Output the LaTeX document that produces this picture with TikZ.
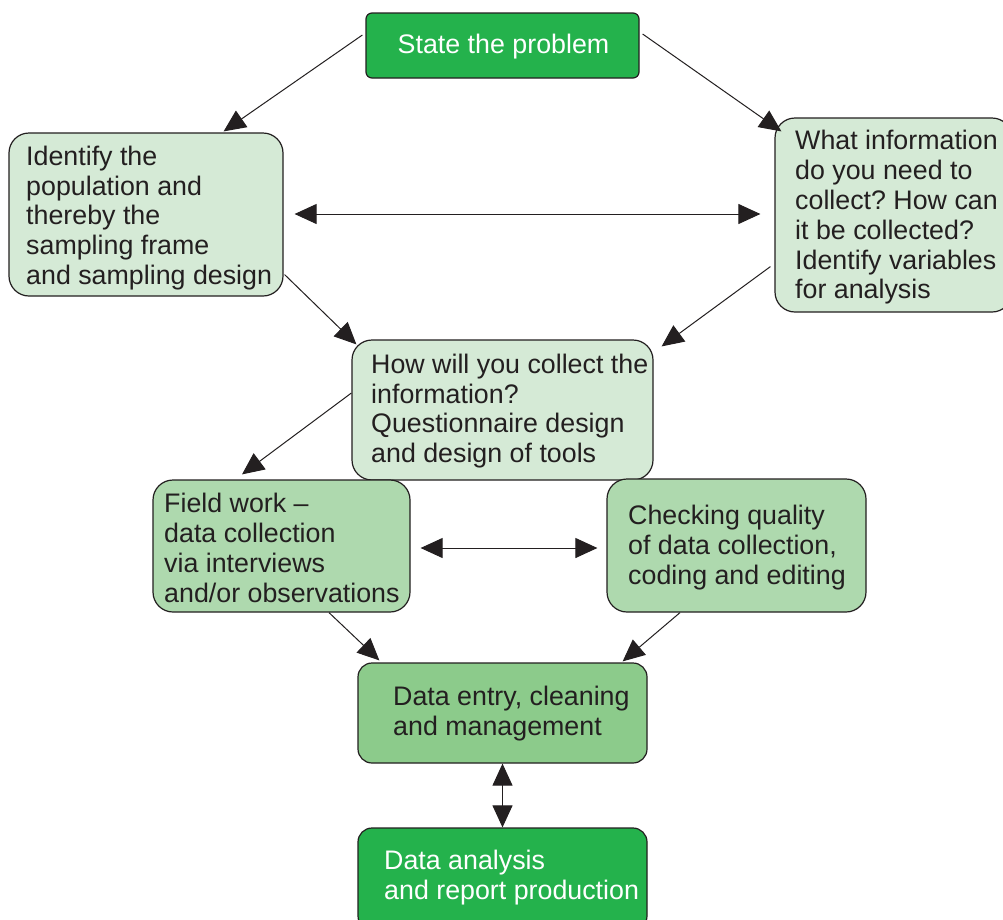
\documentclass[tikz,border=0pt]{standalone}
\usepackage{fontspec}
\setmainfont{Liberation Sans}
\usetikzlibrary{arrows.meta}
\frenchspacing

\definecolor{ink}{HTML}{231F20}
\definecolor{strong}{HTML}{24B24C}
\definecolor{pale}{HTML}{D5EAD6}
\definecolor{mid}{HTML}{AED9AE}
\definecolor{deep}{HTML}{8CCB8B}

\tikzset{
  box/.style={draw=ink, line width=1.2pt, inner sep=0pt, rounded corners=20pt},
  boxsmall/.style={box, rounded corners=14pt},
  boxtop/.style={box, rounded corners=6pt},
  txt/.style={anchor=west, inner sep=0pt, align=left, text=ink,
    font=\fontsize{26.8}{29.8}\selectfont},
  wtxt/.style={txt, text=white},
  arr/.style={draw=ink, line width=1pt, -{Triangle[length=22pt,width=20pt]}},
  darr/.style={draw=ink, line width=1pt, {Triangle[length=22pt,width=20pt]}-{Triangle[length=22pt,width=20pt]}},
}

\begin{document}
\begin{tikzpicture}[x=1pt, y=-1pt]
  \clip (0,0) rectangle (1003,919);
  \fill[white] (0,0) rectangle (1003,919);

  % boxes
  \node[boxtop, fill=strong, minimum width=273pt, minimum height=65pt] (s) at (502.5,45.5) {};
  \node[box, fill=pale, minimum width=274pt, minimum height=163pt] (l) at (146,214.5) {};
  \node[box, fill=pale, minimum width=237pt, minimum height=194pt] (r) at (893.5,215) {};
  \node[box, fill=pale, minimum width=301pt, minimum height=140pt] (m) at (502.5,410) {};
  \node[box, fill=mid, minimum width=257pt, minimum height=132pt] (f) at (281.5,546) {};
  \node[box, fill=mid, minimum width=259pt, minimum height=133pt] (c) at (736.5,545.5) {};
  \node[boxsmall, fill=deep, minimum width=289pt, minimum height=100pt] (d) at (502.5,713) {};
  \node[boxsmall, fill=strong, minimum width=289pt, minimum height=102pt] (a) at (502.5,879) {};

  % texts
  \node[wtxt, anchor=center] (st) at ([shift={(1,1)}]s.center) {State the problem};
  \node[txt] (lt) at (26,218) {Identify the\\population and\\thereby the\\sampling frame\\and sampling design};
  \node[txt] (rt) at (795,217.5) {What information\\do you need to\\collect? How can\\it be collected?\\Identify variables\\for analysis};
  \node[txt] (mt) at (371,411) {How will you collect the\\information?\\Questionnaire design\\and design of tools};
  \node[txt] (ft) at (164,548) {Field work –\\data collection\\via interviews\\and/or observations};
  \node[txt] (ct) at (628,547.5) {Checking quality\\of data collection,\\coding and editing};
  \node[txt] (dt) at (393,713.5) {Data entry, cleaning\\and management};
  \node[wtxt] (at) at (384,877.5) {Data analysis\\and report production};

  % connectors
  \draw[arr] ([shift={(-3,-10.5)}]s.west) -- ([shift={(-60,-1)}]l.north east);
  \draw[arr] ([shift={(3,-11.5)}]s.east) -- ([shift={(7,14)}]r.north west);
  \draw[darr] ([shift={(11,-0.5)}]l.east) -- ([shift={(-14,-1)}]r.west);
  \draw[arr] ([shift={(1,-22)}]l.south east) -- ([shift={(5,5)}]m.north west);
  \draw[arr] ([shift={(-4,-46)}]r.south west) -- ([shift={(8,7)}]m.north east);
  \draw[arr] ([shift={(0,-17)}]m.west) -- ([shift={(-39.5,-5)}]f.north);
  \draw[darr] ([shift={(10,2)}]f.east) -- ([shift={(-9,2.5)}]c.west);
  \draw[arr] ([shift={(47.5,0)}]f.south) -- ([shift={(22,-2)}]d.north west);
  \draw[arr] ([shift={(-56.5,0)}]c.south) -- ([shift={(-25,-1)}]d.north east);
  \draw[darr] (d.south) -- (a.north);
\end{tikzpicture}
\end{document}
